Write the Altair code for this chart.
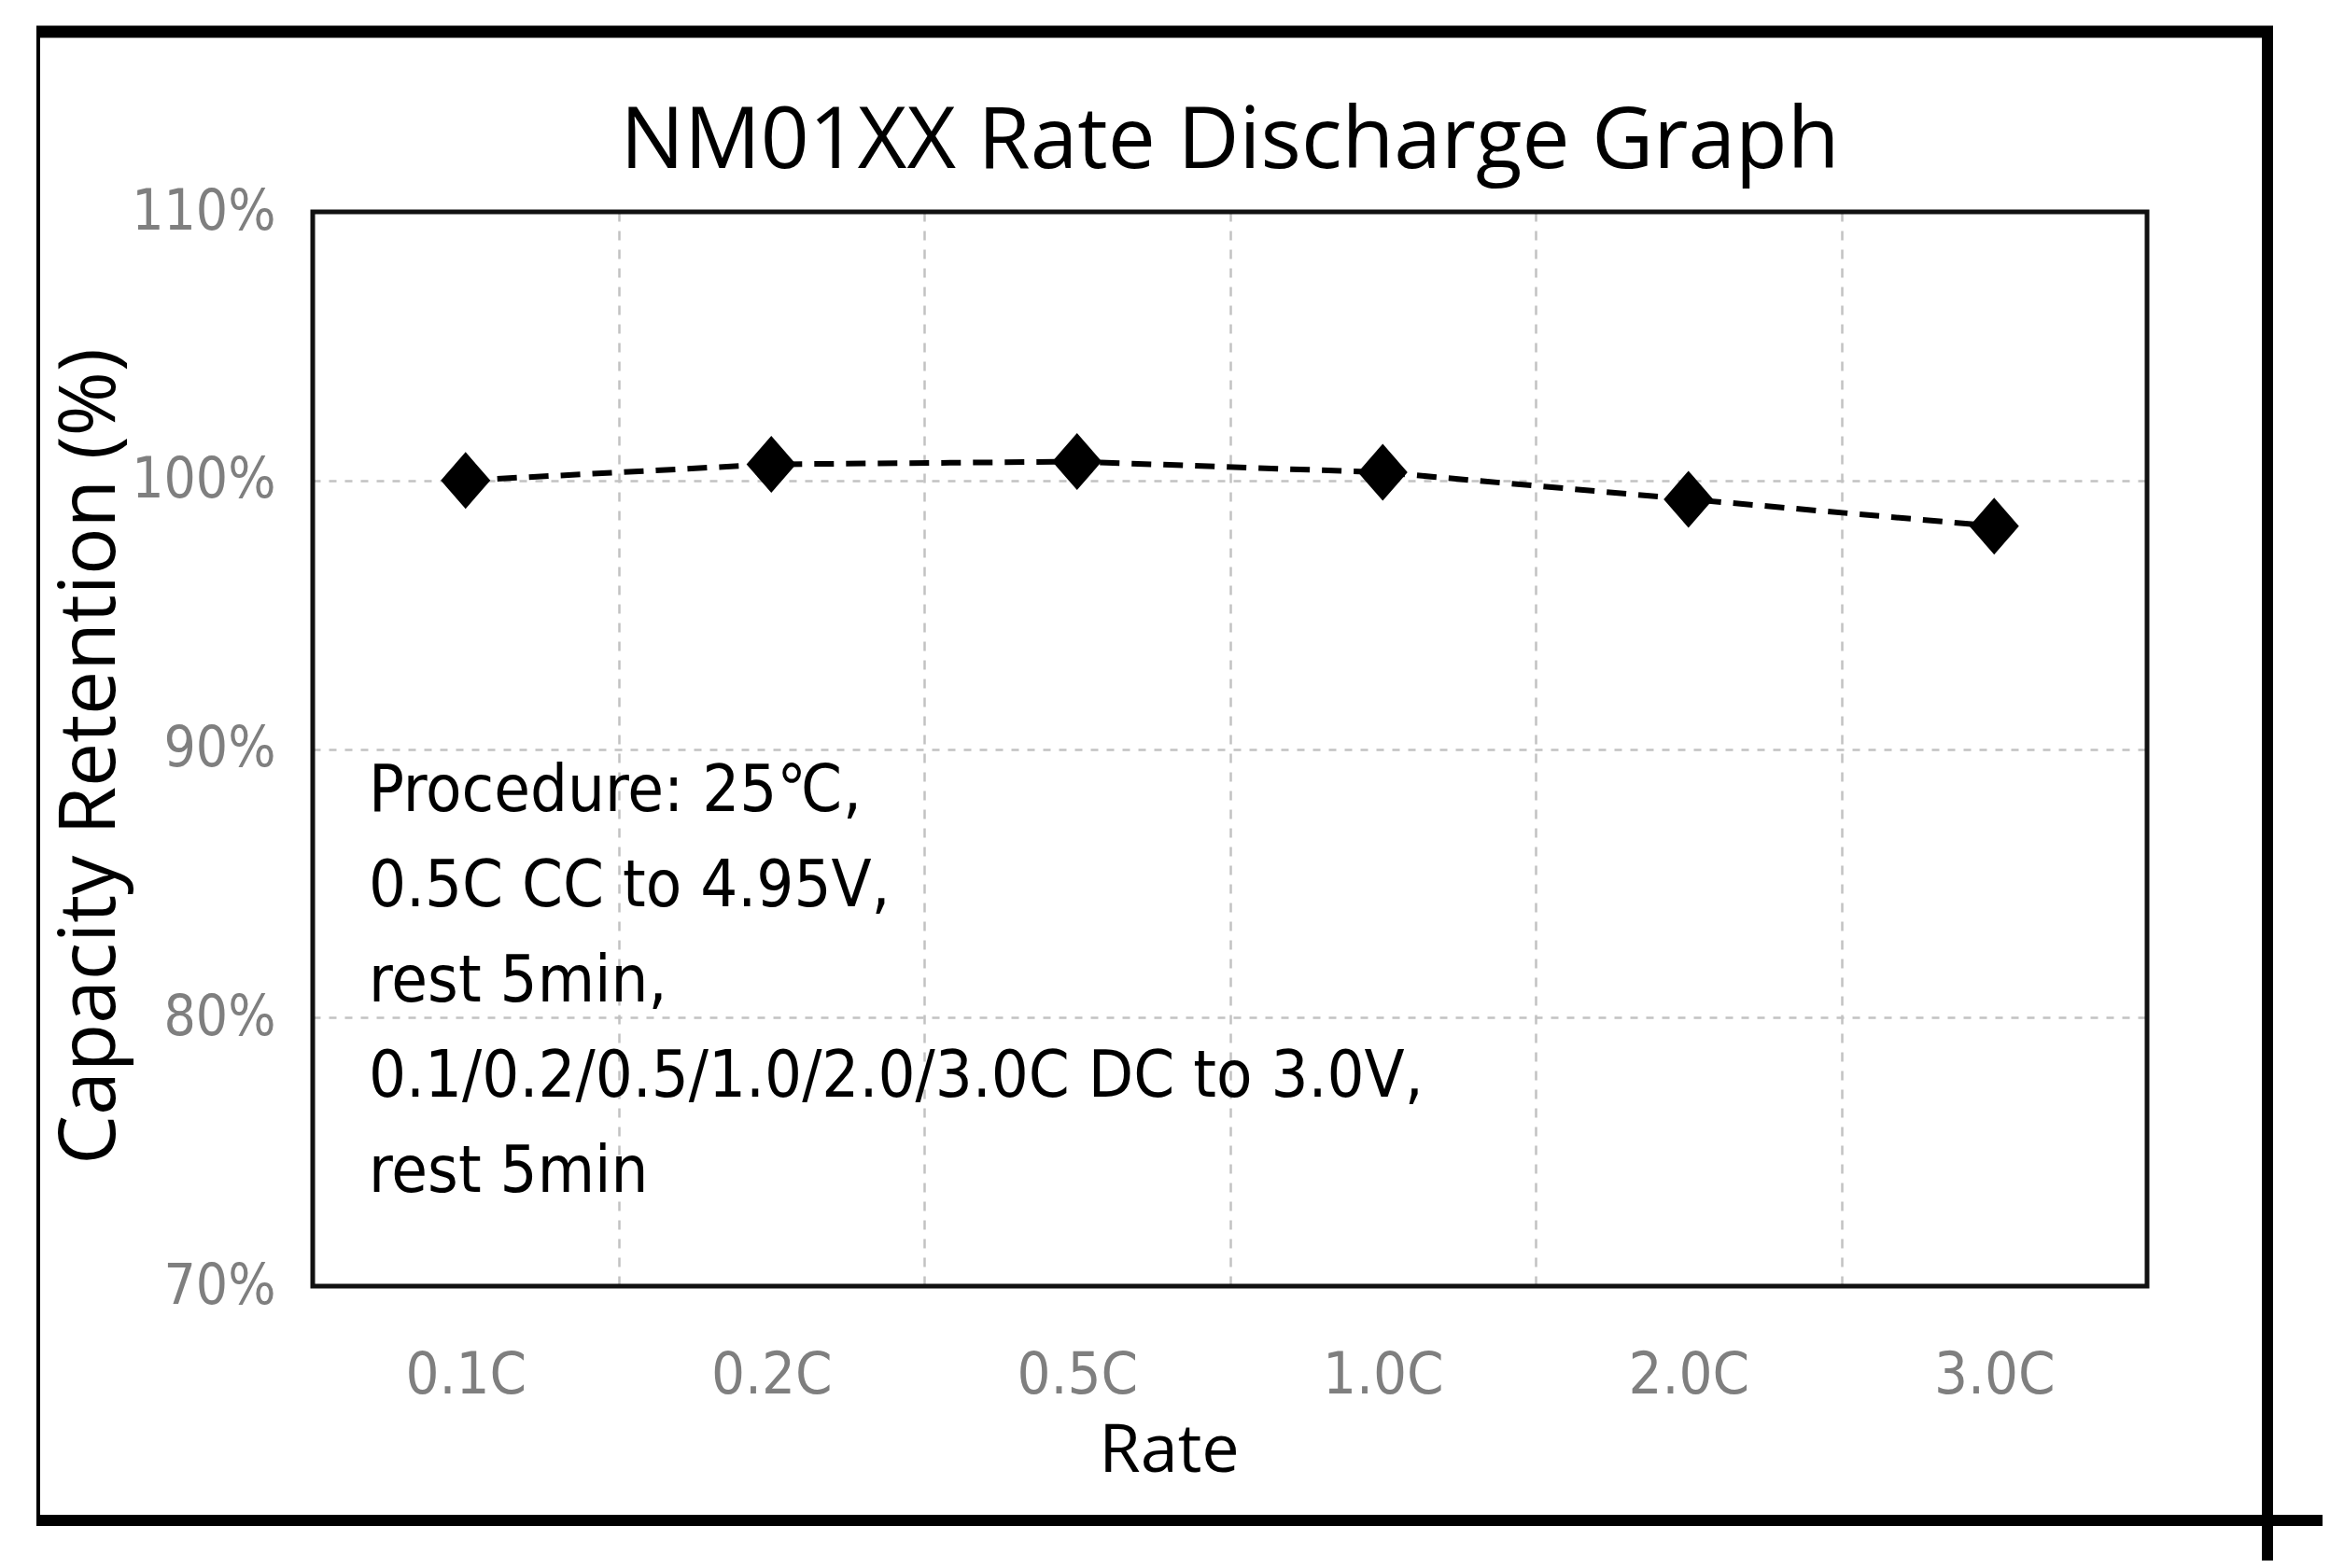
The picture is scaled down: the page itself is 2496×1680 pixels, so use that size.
import altair as alt
import pandas as pd

# ---- data ----
RATES = ["0.1C", "0.2C", "0.5C", "1.0C", "2.0C", "3.0C"]
RETENTION = [100.0, 100.6, 100.7, 100.3, 99.3, 98.3]
Y_TICKS = [70, 80, 90, 100, 110]
TITLE = "NM01XX Rate Discharge Graph"
X_TITLE = "Rate"
Y_TITLE = "Capacity Retention (%)"
NOTE_LINES = [
    "Procedure: 25℃,",
    "0.5C CC to 4.95V,",
    "rest 5min,",
    "0.1/0.2/0.5/1.0/2.0/3.0C DC to 3.0V,",
    "rest 5min",
]

# ---- styling ----
W, H = 1965, 1151
NARROW = "'DejaVu Sans Condensed', 'Liberation Sans Narrow', sans-serif"
SANS = "'Open Sans', 'Noto Sans', sans-serif"
GREY = "#7f7f7f"
GRID = "#c2c2c2"
DIAMOND = "M0,-1L0.87,0L0,1L-0.87,0Z"

df = pd.DataFrame({"rate": RATES, "retention": RETENTION})
note_df = pd.DataFrame({"note": ["\n".join(NOTE_LINES)]})
frame_df = pd.DataFrame({"k": [0]})

x_enc = alt.X(
    "rate:N",
    sort=RATES,
    scale=alt.Scale(type="band", paddingInner=0, paddingOuter=0),
    axis=alt.Axis(
        title=X_TITLE,
        tickBand="extent",
        ticks=False,
        tickSize=0,
        domain=False,
        labelAngle=0,
        labelFont=NARROW,
        labelFontSize=63,
        labelColor=GREY,
        labelBaseline="alphabetic",
        labelPadding=114,
        labelLimit=600,
        grid=True,
        gridDash=[10, 10],
        gridColor=GRID,
        gridWidth=2.5,
        titleFont=SANS,
        titleFontSize=72,
        titleFontWeight="normal",
        titleColor="black",
        titleX=917,
        titleY=198,
        titleBaseline="alphabetic",
        titleAlign="center",
    ),
)

y_enc = alt.Y(
    "retention:Q",
    scale=alt.Scale(domain=[70, 110], nice=False, zero=False),
    axis=alt.Axis(
        title=Y_TITLE,
        values=Y_TICKS,
        labelExpr="datum.value + '%'",
        ticks=False,
        tickSize=0,
        domain=False,
        labelFont=NARROW,
        labelFontSize=60,
        labelColor=GREY,
        labelPadding=40,
        labelBaseline="middle",
        labelLimit=600,
        grid=True,
        gridDash=[8, 9],
        gridColor=GRID,
        gridWidth=2.5,
        titleFont=SANS,
        titleFontSize=84,
        titleFontWeight="normal",
        titleColor="black",
        titleX=-213,
        titleY=583,
        titleAngle=270,
        titleBaseline="alphabetic",
        titleAlign="center",
    ),
)

line = alt.Chart(df).mark_line(
    color="black", strokeWidth=6, strokeDash=[21, 13]
).encode(x=x_enc, y=y_enc)

points = alt.Chart(df).mark_point(
    shape=DIAMOND, filled=True, size=3721, color="black", opacity=1
).encode(x=x_enc, y=y_enc)

note = alt.Chart(note_df).mark_text(
    align="left",
    baseline="alphabetic",
    lineBreak="\n",
    lineHeight=102,
    font=NARROW,
    fontSize=70,
    color="black",
).encode(x=alt.value(60), y=alt.value(642), text="note:N")

# plot-area border, drawn above the grid
border = alt.Chart(frame_df).mark_rect(
    filled=False, stroke="#111111", strokeWidth=5
).encode(x=alt.value(0), x2=alt.value(W), y=alt.value(0), y2=alt.value(H))

# outer picture frame
frame_top = alt.Chart(frame_df).mark_rule(color="black", strokeWidth=13).encode(
    x=alt.value(-296), x2=alt.value(2100), y=alt.value(-193)
)
frame_right = alt.Chart(frame_df).mark_rule(color="black", strokeWidth=12).encode(
    x=alt.value(2094), y=alt.value(-199), y2=alt.value(1470)
)
frame_bottom = alt.Chart(frame_df).mark_rule(color="black", strokeWidth=12).encode(
    x=alt.value(-296), x2=alt.value(2180), y=alt.value(1402)
)
frame_left = alt.Chart(frame_df).mark_rule(color="black", strokeWidth=4).encode(
    x=alt.value(-294), y=alt.value(-199), y2=alt.value(1402)
)

chart = alt.layer(
    frame_top, frame_right, frame_bottom, frame_left, border, note, line, points
).properties(
    width=W,
    height=H,
    title=alt.TitleParams(
        text=TITLE,
        font=SANS,
        fontSize=91,
        fontWeight="normal",
        color="black",
        anchor="middle",
        frame="group",
        baseline="alphabetic",
        offset=-249,
    ),
    autosize=alt.AutoSizeParams(type="none"),
    padding={"left": 327, "top": 219, "right": 188, "bottom": 294},
    background="white",
).configure_view(
    stroke=None
)

chart.save("out.html", embed_options={"renderer": "svg", "actions": False})
